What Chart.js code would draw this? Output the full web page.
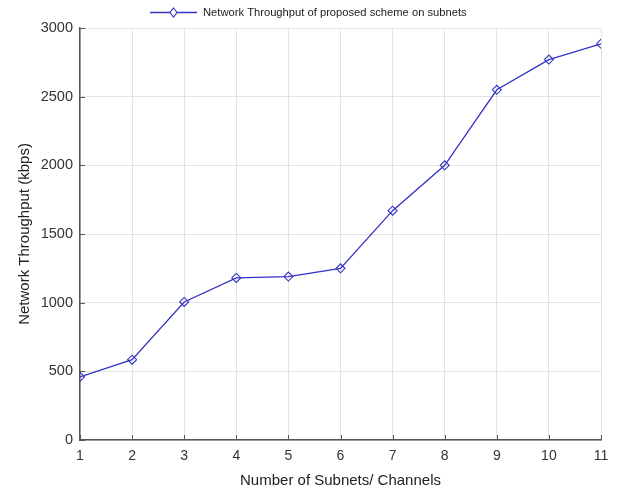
<!DOCTYPE html>
<html>
<head>
<meta charset="utf-8">
<script src="https://cdn.jsdelivr.net/npm/chart.js@4.4.1/dist/chart.umd.min.js"></script>
<style>
  html, body { margin: 0; padding: 0; background: #fff; }
  #wrap { width: 621px; height: 490px; }
</style>
</head>
<body>
<div id="wrap"><canvas id="c" width="621" height="490"></canvas></div>
<script>
// Number of subnets / channels on the x axis
const subnets = [1, 2, 3, 4, 5, 6, 7, 8, 9, 10, 11];
// Measured network throughput (kbps) for each subnet count
const throughput = [460, 585, 1005, 1180, 1190, 1250, 1670, 2000, 2550, 2770, 2885];
// Axis tick values
const xTicks = [1, 2, 3, 4, 5, 6, 7, 8, 9, 10, 11];
const yTicks = [0, 500, 1000, 1500, 2000, 2500, 3000];

const seriesName = 'Network Throughput of proposed scheme on subnets';
const lineColor = '#3232c4';
const FONT = '"Liberation Sans", Arial, Helvetica, sans-serif';

// Legend: a short line with a hollow diamond, followed by the series name
const lineLegend = {
  id: 'lineLegend',
  afterDraw(chart) {
    const ctx = chart.ctx;
    const x0 = 150, x1 = 197, cy = 12.5, mx = (x0 + x1) / 2;
    ctx.save();
    ctx.strokeStyle = lineColor;
    ctx.lineWidth = 1.3;
    ctx.beginPath(); ctx.moveTo(x0, cy); ctx.lineTo(x1, cy); ctx.stroke();
    ctx.fillStyle = '#fff';
    ctx.lineWidth = 1.1;
    ctx.beginPath();
    ctx.moveTo(mx, cy - 4.5); ctx.lineTo(mx + 3.5, cy); ctx.lineTo(mx, cy + 4.5); ctx.lineTo(mx - 3.5, cy);
    ctx.closePath(); ctx.fill(); ctx.stroke();
    ctx.fillStyle = '#222';
    ctx.font = '11.2px ' + FONT;
    ctx.textBaseline = 'middle';
    ctx.textAlign = 'left';
    ctx.fillText(chart.data.datasets[0].label, 203, cy + 0.5);
    ctx.restore();
  }
};

// Short inward tick marks on the left and bottom axes
const innerTicks = {
  id: 'innerTicks',
  afterDatasetsDraw(chart) {
    const { ctx, chartArea: a, scales: { x, y } } = chart;
    ctx.save();
    ctx.strokeStyle = '#555';
    ctx.lineWidth = 1;
    xTicks.forEach(v => {
      const px = Math.round(x.getPixelForValue(v)) + 0.5;
      ctx.beginPath(); ctx.moveTo(px, a.bottom); ctx.lineTo(px, a.bottom - 5); ctx.stroke();
    });
    yTicks.forEach(v => {
      const py = Math.round(y.getPixelForValue(v)) + 0.5;
      ctx.beginPath(); ctx.moveTo(a.left, py); ctx.lineTo(a.left + 5, py); ctx.stroke();
    });
    ctx.restore();
  }
};

new Chart(document.getElementById('c'), {
  type: 'line',
  data: {
    datasets: [{
      label: seriesName,
      data: subnets.map((s, i) => ({ x: s, y: throughput[i] })),
      borderColor: lineColor,
      borderWidth: 1.3,
      backgroundColor: '#ffffff',
      pointStyle: 'rectRot',
      pointRadius: 4.5,
      pointBorderWidth: 1.1,
      pointBorderColor: lineColor,
      pointBackgroundColor: 'rgba(255,255,255,0)',
      tension: 0,
      fill: false
    }]
  },
  plugins: [innerTicks, lineLegend],
  options: {
    responsive: false,
    animation: false,
    devicePixelRatio: 1,
    layout: { padding: { left: 0, right: 20, top: 28, bottom: 0 } },
    plugins: {
      tooltip: { enabled: false },
      legend: { display: false }
    },
    scales: {
      x: {
        type: 'linear',
        min: 1,
        max: 11,
        afterBuildTicks: s => { s.ticks = xTicks.map(v => ({ value: v })); },
        afterFit: s => { s.height = 50; },
        ticks: {
          color: '#333',
          font: { family: FONT, size: 14 },
          padding: 8,
          maxRotation: 0,
          callback: v => String(v)
        },
        grid: { color: '#e3e3e3', lineWidth: 1, drawTicks: false },
        border: { display: true, color: '#555', width: 1.5 },
        title: {
          display: true,
          text: 'Number of Subnets/ Channels',
          color: '#222',
          font: { family: FONT, size: 15 },
          padding: { top: 0, bottom: 0 }
        }
      },
      y: {
        min: 0,
        max: 3000,
        afterBuildTicks: s => { s.ticks = yTicks.map(v => ({ value: v })); },
        afterFit: s => { s.width = 80; },
        ticks: {
          color: '#333',
          font: { family: FONT, size: 14.5 },
          padding: 7,
          callback: v => String(v)
        },
        grid: { color: '#e3e3e3', lineWidth: 1, drawTicks: false },
        border: { display: true, color: '#555', width: 1.5 },
        title: {
          display: true,
          text: 'Network Throughput (kbps)',
          color: '#222',
          font: { family: FONT, size: 15 },
          padding: { top: 16, bottom: 0 }
        }
      }
    }
  }
});
</script>
</body>
</html>
